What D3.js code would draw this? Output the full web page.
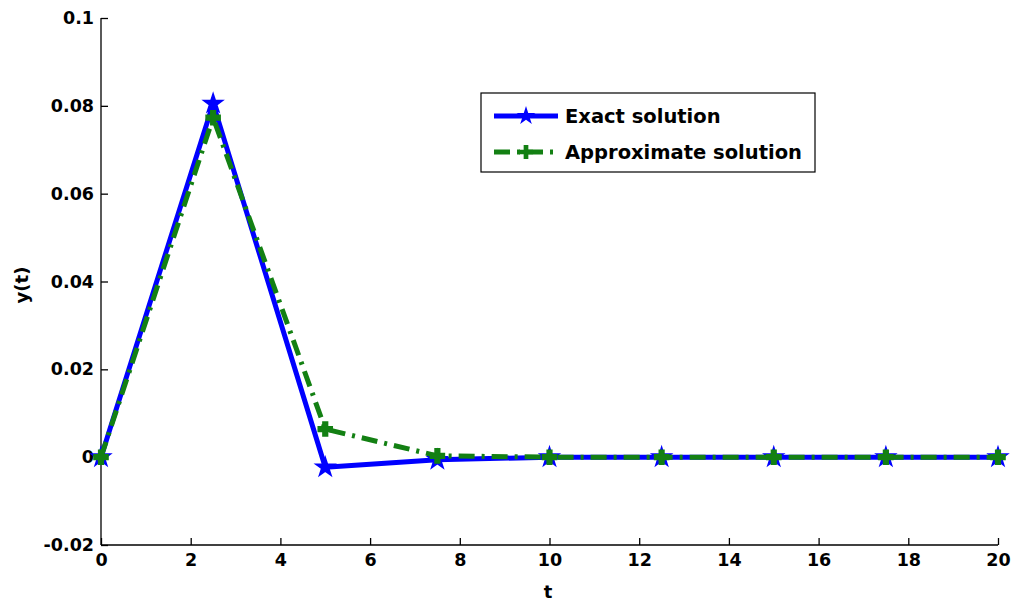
<!DOCTYPE html>
<html><head><meta charset="utf-8">
<script src="https://cdn.jsdelivr.net/npm/d3@7"></script>
<style>body{margin:0;background:#fff}text{font-family:"DejaVu Sans",Verdana,sans-serif;font-weight:bold}</style>
</head><body><svg id="c" width="1014" height="604"></svg>
<script>
const tValues = [0, 2.5, 5, 7.5, 10, 12.5, 15, 17.5, 20];
const exactValues = [0, 0.0805, -0.0023, -0.0006, 0, 0, 0, 0, 0];
const approxValues = [0, 0.0773, 0.0064, 0.0003, 0, 0, 0, 0, 0];
const xTicks = [0,2,4,6,8,10,12,14,16,18,20];
const yTicks = [-0.02,0,0.02,0.04,0.06,0.08,0.1];
const yTickLabels = ["-0.02","0","0.02","0.04","0.06","0.08","0.1"];
const seriesNames = ["Exact solution","Approximate solution"];

const svg = d3.select("#c");
const x = d3.scaleLinear().domain([0,20]).range([101,998]);
const y = d3.scaleLinear().domain([-0.02,0.1]).range([545,18]);

const xAxis = d3.axisBottom(x).tickValues(xTicks).tickSize(-7).tickPadding(9).tickFormat(d3.format("d"));
const gx = svg.append("g").attr("transform","translate(0,545)").call(xAxis);
const yAxis = d3.axisLeft(y).tickValues(yTicks).tickSize(-7).tickPadding(7).tickFormat((d,i)=>yTickLabels[i]);
const gy = svg.append("g").attr("transform","translate(101,0)").call(yAxis);
[gx,gy].forEach(g=>{
  g.select(".domain").attr("stroke","#000").attr("stroke-width",1.3);
  g.selectAll(".tick line").attr("stroke","#000").attr("stroke-width",1.3);
  g.selectAll(".tick text").attr("font-size",17.5).attr("fill","#000")
    .style("font-family",'"DejaVu Sans",Verdana,sans-serif').style("font-weight","bold");
});
gx.select(".domain").attr("d","M101,0H998");
gy.select(".domain").attr("d","M0,545V18");

svg.append("text").attr("x",548).attr("y",598).attr("text-anchor","middle").attr("font-size",18).text("t");
svg.append("text").attr("transform","translate(28,285) rotate(-90)").attr("text-anchor","middle").attr("font-size",18).text("y(t)");

const line = d3.line().x(d=>x(d[0])).y(d=>y(d[1]));
const exactData = tValues.map((t,i)=>[t,exactValues[i]]);
const approxData = tValues.map((t,i)=>[t,approxValues[i]]);

const star = d3.symbol().type(d3.symbolStar).size(110);
const cross = d3.symbol().type(d3.symbolCross).size(110);

svg.append("path").datum(exactData).attr("d",line).attr("fill","none").attr("stroke","#0000ff").attr("stroke-width",5).attr("stroke-linejoin","round");
svg.selectAll(".ex").data(exactData).enter().append("path").attr("d",star).attr("transform",d=>`translate(${x(d[0])},${y(d[1])})`).attr("fill","#0000ff").attr("stroke","#0000ff").attr("stroke-width",1.5);

svg.append("path").datum(approxData).attr("d",line).attr("fill","none").attr("stroke","#138013").attr("stroke-width",5).attr("stroke-dasharray","16,7,3,7");
svg.selectAll(".ap").data(approxData).enter().append("path").attr("d",cross).attr("transform",d=>`translate(${x(d[0])},${y(d[1])})`).attr("fill","#138013").attr("stroke","#138013").attr("stroke-width",1.5);

// legend
const lg = svg.append("g");
lg.append("rect").attr("x",481).attr("y",93).attr("width",334).attr("height",79).attr("fill","#fff").attr("stroke","#000").attr("stroke-width",1.2);
lg.append("line").attr("x1",494).attr("x2",558).attr("y1",116).attr("y2",116).attr("stroke","#0000ff").attr("stroke-width",5);
lg.append("path").attr("d",star).attr("transform","translate(526,116)").attr("fill","#0000ff");
lg.append("line").attr("x1",494).attr("x2",558).attr("y1",152).attr("y2",152).attr("stroke","#138013").attr("stroke-width",5).attr("stroke-dasharray","16,7,3,7");
lg.append("path").attr("d",cross).attr("transform","translate(526,152)").attr("fill","#138013");
lg.selectAll(".lt").data(seriesNames).enter().append("text").attr("x",565).attr("y",(d,i)=>123+i*36).attr("font-size",19.5).attr("fill","#000").text(d=>d);
</script></body></html>
